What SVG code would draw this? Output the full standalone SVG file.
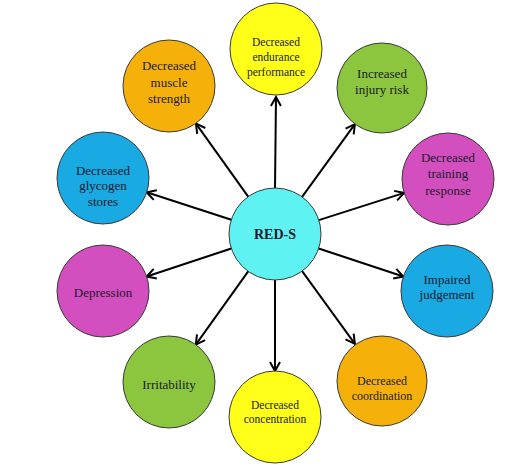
<svg xmlns="http://www.w3.org/2000/svg" width="508" height="470" viewBox="0 0 508 470">
<style>
.n{stroke:#3a3a3a;stroke-width:1}
.y{fill:#FFFF1A}.o{fill:#F5B10A}.g{fill:#8CC63E}.m{fill:#D34FBF}.b{fill:#19A9E3}.c{fill:#5EF2F2}
text{font-family:"Liberation Serif","Times New Roman",serif;font-size:13px;fill:#1a1a2a;text-anchor:middle}
.s11{font-size:11.5px}.s12{font-size:12px}
.bold{font-weight:bold;font-size:14px}
#edges line{stroke:#000;stroke-width:2;marker-end:url(#ah)}
</style>
<defs>
<marker id="ah" viewBox="-11 -7 13 14" refX="0" refY="0" markerWidth="13" markerHeight="14" markerUnits="userSpaceOnUse" orient="auto">
<path d="M-9,-5 L0,0 L-9,5" fill="none" stroke="#000" stroke-width="2"/>
</marker>
</defs>
<rect width="508" height="470" fill="#fff"/>
<g id="edges">
<line x1="275" y1="188" x2="276" y2="97"/>
<line x1="248.2" y1="196.6" x2="196" y2="123.6"/>
<line x1="302.1" y1="196.8" x2="354.9" y2="124.2"/>
<line x1="318.8" y1="220.1" x2="404.2" y2="192.9"/>
<line x1="318.7" y1="248.5" x2="403.3" y2="276.5"/>
<line x1="302.1" y1="271.2" x2="354.9" y2="343.8"/>
<line x1="275" y1="280" x2="275" y2="371"/>
<line x1="248.2" y1="271.4" x2="195.8" y2="344.6"/>
<line x1="231.3" y1="248.5" x2="146.7" y2="276.5"/>
<line x1="231.3" y1="219.7" x2="146.7" y2="192.3"/>
</g>
<g id="center"><circle class="n c" cx="275" cy="234" r="46"/><text class="bold" x="275" y="239">RED-S</text></g>
<g id="endurance"><circle class="n y" cx="276" cy="49" r="46"/><text class="s11" x="276" y="46">Decreased</text><text class="s11" x="276" y="61">endurance</text><text class="s11" x="276" y="76">performance</text></g>
<g id="muscle"><circle class="n o" cx="169" cy="86" r="46"/><text x="169" y="70">Decreased</text><text x="169" y="87">muscle</text><text x="169" y="103">strength</text></g>
<g id="injury"><circle class="n g" cx="382" cy="88" r="45"/><text x="382" y="78">Increased</text><text x="382" y="94">injury risk</text></g>
<g id="training"><circle class="n m" cx="448" cy="179" r="46"/><text x="448" y="162">Decreased</text><text x="448" y="178">training</text><text x="448" y="195">response</text></g>
<g id="judgement"><circle class="n b" cx="447" cy="291" r="46"/><text x="447" y="284">Impaired</text><text x="447" y="299">judgement</text></g>
<g id="coordination"><circle class="n o" cx="382" cy="381" r="45"/><text class="s12" x="382" y="385">Decreased</text><text class="s12" x="382" y="400">coordination</text></g>
<g id="concentration"><circle class="n y" cx="275" cy="417" r="46"/><text class="s11" x="275" y="409">Decreased</text><text class="s11" x="275" y="423">concentration</text></g>
<g id="irritability"><circle class="n g" cx="169" cy="382" r="46"/><text x="169" y="389">Irritability</text></g>
<g id="depression"><circle class="n m" cx="103" cy="291" r="46"/><text x="103" y="297">Depression</text></g>
<g id="glycogen"><circle class="n b" cx="103" cy="178" r="46"/><text x="103" y="175">Decreased</text><text x="103" y="190">glycogen</text><text x="103" y="206">stores</text></g>
</svg>
